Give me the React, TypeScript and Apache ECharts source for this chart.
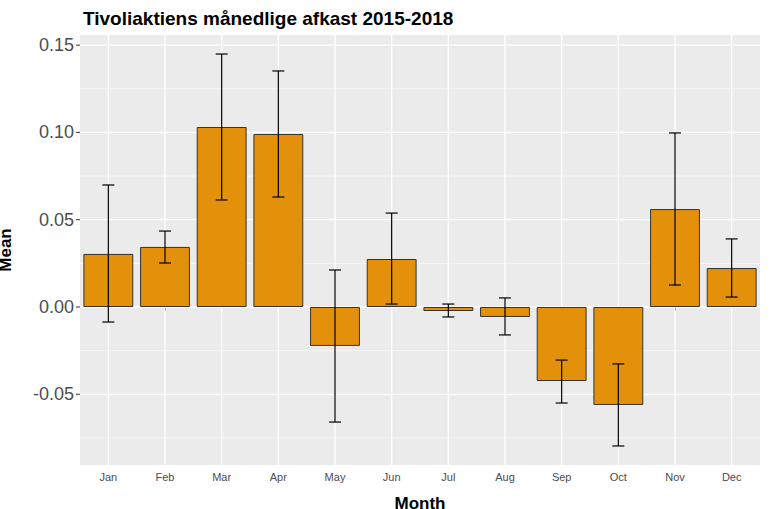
import React, { useEffect, useRef } from "react";
import * as echarts from "echarts";

const months = ["Jan","Feb","Mar","Apr","May","Jun","Jul","Aug","Sep","Oct","Nov","Dec"];
const means = [0.0304,0.0344,0.1031,0.0991,-0.0223,0.0275,-0.0023,-0.0057,-0.0424,-0.0561,0.0561,0.0223];
const upper = [0.0699,0.0435,0.1449,0.1352,0.0212,0.0538,0.0017,0.0052,-0.0304,-0.0326,0.0997,0.039];
const lower = [-0.0086,0.0252,0.0613,0.063,-0.0659,0.0017,-0.0057,-0.016,-0.055,-0.0796,0.0126,0.0057];
const majorTicks = [-0.05,0,0.05,0.10,0.15];
const tickLabels = ["-0.05","0.00","0.05","0.10","0.15"];
const minorTicks = [-0.075,-0.025,0.025,0.075,0.125];

export default function App() {
  const ref = useRef<HTMLDivElement>(null);
  useEffect(() => {
    const chart = echarts.init(ref.current!, null, { renderer: "svg" });
    chart.setOption({
      animation: false,
      title: { text: "Tivoliaktiens månedlige afkast 2015-2018", left: 78, top: 4,
        textStyle: { fontSize: 19, fontWeight: "bold", color: "#000", fontFamily: "Liberation Sans" } },
      grid: { left: 80, right: 10, top: 35, bottom: 44, show: true, backgroundColor: "#ebebeb", borderWidth: 0, outerBoundsMode: "none", containLabel: false },
      xAxis: { type: "category", data: months, name: "Month", nameLocation: "middle", nameGap: 30,
        nameTextStyle: { fontSize: 17, fontWeight: "bold", color: "#000", fontFamily: "Liberation Sans" },
        axisLine: { show: false }, axisTick: { show: true, alignWithLabel: true, length: 4, lineStyle: { color: "#333" } },
        axisLabel: { fontSize: 11, color: "#4d4d4d", margin: 6, fontFamily: "Liberation Sans" }, splitLine: { show: false } },
      yAxis: { type: "value", min: -0.0905, max: 0.1558, name: "Mean", nameLocation: "middle", nameGap: 66,
        nameTextStyle: { fontSize: 17, fontWeight: "bold", color: "#000", fontFamily: "Liberation Sans" },
        axisLabel: { show: false }, axisTick: { show: false }, axisLine: { show: false }, splitLine: { show: false } },
      series: [
        { type: "custom", z: 1, silent: true, data: minorTicks.map(v => [0, v]),
          renderItem: (p: any, api: any) => {
            const y = api.coord([0, api.value(1)])[1];
            const cs = p.coordSys;
            return { type: "line", shape: { x1: cs.x, y1: y, x2: cs.x + cs.width, y2: y }, style: { stroke: "#fff", lineWidth: 0.6 } };
          } },
        { type: "custom", z: 1, silent: true, data: majorTicks.map((v, i) => [0, v, i]),
          renderItem: (p: any, api: any) => {
            const y = api.coord([0, api.value(1)])[1];
            const cs = p.coordSys;
            return { type: "group", children: [
              { type: "line", shape: { x1: cs.x, y1: y, x2: cs.x + cs.width, y2: y }, style: { stroke: "#fff", lineWidth: 1.3 } },
              { type: "line", shape: { x1: cs.x - 4, y1: y, x2: cs.x, y2: y }, style: { stroke: "#333", lineWidth: 1 } },
              { type: "text", x: cs.x - 6, y, style: { text: tickLabels[api.value(2)], align: "right", verticalAlign: "middle", fontSize: 18, fill: "#4d4d4d", fontFamily: "Liberation Sans" } }
            ] };
          } },
        { type: "custom", z: 1, silent: true, data: months.map((m, i) => [i, 0]),
          renderItem: (p: any, api: any) => {
            const x = api.coord([api.value(0), 0])[0];
            const cs = p.coordSys;
            return { type: "line", shape: { x1: x, y1: cs.y, x2: x, y2: cs.y + cs.height }, style: { stroke: "#fff", lineWidth: 1.3 } };
          } },
        { type: "bar", z: 2, data: means, barWidth: "88%",
          itemStyle: { color: "#e3900a", borderColor: "#333", borderWidth: 1 } },
        { type: "custom", z: 3, data: months.map((m, i) => [i, lower[i], upper[i]]),
          renderItem: (p: any, api: any) => {
            const lo = api.coord([api.value(0), api.value(1)]);
            const hi = api.coord([api.value(0), api.value(2)]);
            const w = 6;
            const st = { stroke: "#000", lineWidth: 1.2 };
            return { type: "group", children: [
              { type: "line", shape: { x1: lo[0], y1: lo[1], x2: hi[0], y2: hi[1] }, style: st },
              { type: "line", shape: { x1: lo[0] - w, y1: lo[1], x2: lo[0] + w, y2: lo[1] }, style: st },
              { type: "line", shape: { x1: hi[0] - w, y1: hi[1], x2: hi[0] + w, y2: hi[1] }, style: st }
            ] };
          } }
      ]
    });
    return () => chart.dispose();
  }, []);
  return <div ref={ref} style={{ position: "fixed", left: 0, top: 0, width: 770, height: 509, background: "#fff" }} />;
}
